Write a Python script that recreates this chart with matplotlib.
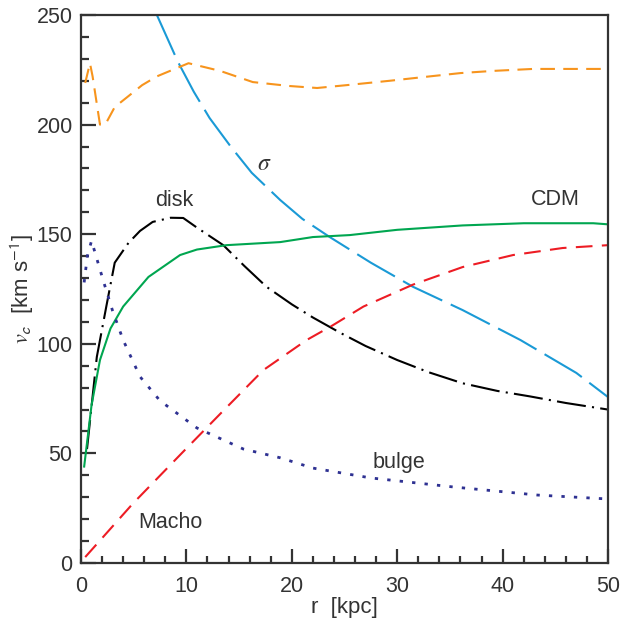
import numpy as np
import matplotlib
matplotlib.use('Agg')
import matplotlib.pyplot as plt
from matplotlib.ticker import MultipleLocator

plt.rcParams['font.family'] = ['Liberation Sans', 'DejaVu Sans']
plt.rcParams['mathtext.fontset'] = 'dejavusans'

# rotation curve components
r_sigma = [7.2, 9.2, 10.7, 12.2, 14.2, 16.2, 18.9, 21.0, 23.6, 27.5, 31.5, 36.2,
           41.7, 47.0, 50.0]
v_sigma = [250, 228.6, 215, 203, 190, 178, 165.6, 157, 148.7, 137, 126, 115.4,
           101.7, 86.7, 75.7]

r_halo = [0.4, 0.85, 1.1, 1.8, 2.3, 3.2, 4.4, 5.8, 7.2, 8.7, 10.2, 13.2, 16.3,
          19.8, 22.4, 25.2, 29.3, 33.1, 36.0, 39.1, 42.9, 50.0]
v_halo = [219, 228, 222, 200, 200, 208, 212.6, 218, 222, 225, 228, 224.5, 219.4,
          217.6, 216.7, 218, 220, 222, 223.5, 224.5, 225.4, 225.4]

r_disk = [0.57, 1.5, 2.4, 3.2, 4.5, 5.6, 6.8, 8.5, 9.7, 11.0, 13.5, 15.5, 17.6,
          20.0, 22.0, 24.6, 27.0, 30.0, 33.0, 36.2, 39.5, 42.6, 46.0, 50.0]
v_disk = [52, 94, 117, 137, 146, 151.5, 155.6, 157.5, 157.4, 153, 145, 135.5, 126,
          118, 112, 105, 99, 92.6, 87, 82, 78.5, 76, 73, 70]

r_cdm = [0.3, 0.5, 1.0, 1.8, 2.8, 4.0, 6.4, 9.4, 11.0, 13.8, 18.9, 22.0,
         25.5, 30.0, 36.2, 42.0, 48.6, 50.0]
v_cdm = [44, 52, 72, 92.6, 107, 117, 130.5, 140.5, 143, 145, 146.4, 148.7,
         149.6, 152, 154, 155, 155, 154.5]

r_macho = [0.4, 4.9, 9.6, 13.2, 17.3, 21.4, 23.8, 26.8, 31.5, 36.2, 41.0, 45.7, 50.0]
v_macho = [2.7, 27, 50.3, 68, 88, 101.7, 108.2, 117, 127, 135, 140.5, 143.7, 145]

r_bulge = [0.3, 0.6, 1.0, 2.1, 3.0, 4.0, 5.6, 7.5, 11.0, 15.4, 18.9, 22.0,
           27.5, 35.3, 43.3, 50.0]
v_bulge = [128, 140, 147, 129, 115, 101.7, 85, 74, 61.6, 52, 48, 43.3,
           38.8, 34.7, 31, 29.2]

labels = ['disk', r'$\sigma$', 'CDM', 'bulge', 'Macho']
label_xy = [(8.8, 165.5), (17.4, 182), (45.0, 166), (30.2, 46), (8.5, 18.5)]

fig = plt.figure(figsize=(6.21, 6.27), dpi=100)
ax = fig.add_axes([81 / 621, 1 - 563 / 627, 527 / 621, 548 / 627])

lw = 1.5
ax.plot(r_sigma, v_sigma, color='#1a9ad6', lw=lw, dashes=(21, 4.5))
ax.plot(r_halo, v_halo, color='#f7941d', lw=lw, dashes=(7, 4))
ax.plot(r_disk, v_disk, color='black', lw=lw, dashes=(14, 3, 1, 3))
ax.plot(r_cdm, v_cdm, color='#00a650', lw=lw)
ax.plot(r_macho, v_macho, color='#ed1c24', lw=lw, dashes=(8, 4.5))
ax.plot(r_bulge, v_bulge, color='#2e3192', lw=2.0, dashes=(1.2, 3.3))

tc = '#333333'
for s, (x, y) in zip(labels, label_xy):
    t = ax.text(x, y, s, ha='center', va='center', fontsize=15.5, color=tc)
    if s.startswith('$'):
        t.set_math_fontfamily('stix')
        t.set_fontsize(17)

ax.set_xlim(0, 50)
ax.set_ylim(0, 250)
ax.xaxis.set_major_locator(MultipleLocator(10))
ax.xaxis.set_minor_locator(MultipleLocator(2))
ax.yaxis.set_major_locator(MultipleLocator(50))
ax.yaxis.set_minor_locator(MultipleLocator(10))
ax.tick_params(which='both', direction='in', top=False, right=False,
               width=1.6, color=tc, labelsize=15.5, labelcolor=tc)
ax.tick_params(axis='y', which='major', length=11, pad=6)
ax.tick_params(axis='y', which='minor', length=5.5)
ax.tick_params(axis='x', which='major', length=10, pad=9)
ax.tick_params(axis='x', which='minor', length=5)
for sp in ax.spines.values():
    sp.set_linewidth(1.6)
    sp.set_color(tc)

ax.set_xlabel('r  [kpc]', fontsize=16, color=tc, labelpad=0)
yl = ax.set_ylabel(r'$v_{\mathsf{c}}$  [km s$^{\mathsf{-1}}$]', fontsize=16, color=tc,
                   labelpad=0)
yl.set_math_fontfamily('stix')

plt.savefig('out.png', dpi=100)
